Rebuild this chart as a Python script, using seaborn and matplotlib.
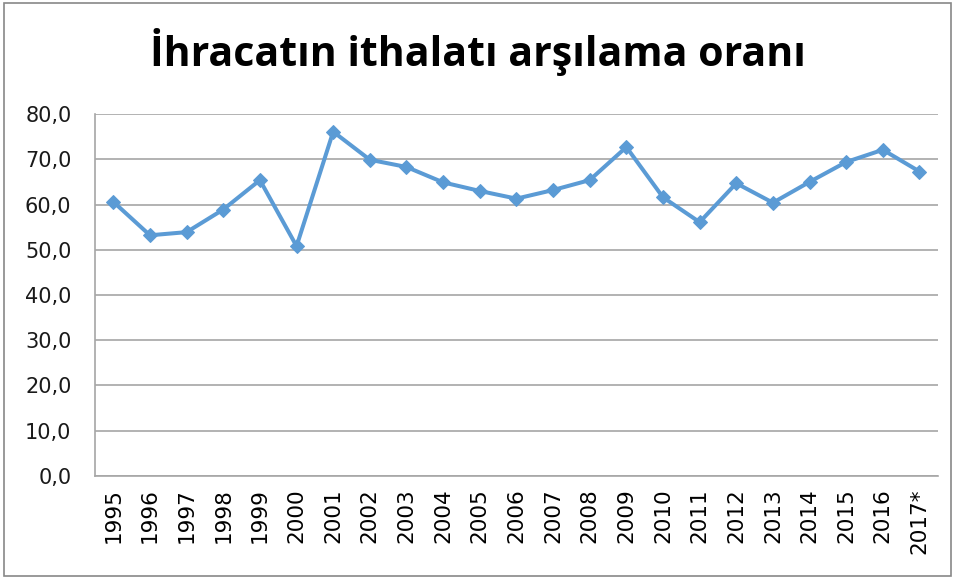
import numpy as np
import pandas as pd
import matplotlib
matplotlib.use("Agg")
import matplotlib.pyplot as plt
import seaborn as sns
from matplotlib.patches import Rectangle
from matplotlib.ticker import FixedLocator, FuncFormatter

# --- Daten ---
years = ["1995", "1996", "1997", "1998", "1999", "2000", "2001", "2002",
         "2003", "2004", "2005", "2006", "2007", "2008", "2009", "2010",
         "2011", "2012", "2013", "2014", "2015", "2016", "2017*"]
ratio = [60.6, 53.2, 53.9, 58.9, 65.4, 50.8, 76.1, 69.9,
         68.3, 64.9, 63.0, 61.3, 63.2, 65.4, 72.7, 61.6,
         56.1, 64.7, 60.4, 65.0, 69.4, 72.1, 67.3]
y_ticks = [0, 10, 20, 30, 40, 50, 60, 70, 80]
title = "İhracatın ithalatı arşılama oranı"

LINE_COLOR = "#5B9BD5"
GRID_COLOR = "#A6A6A6"

df = pd.DataFrame({"pos": np.arange(len(years)), "oran": ratio})

sns.set_style("white")
plt.rcParams["font.family"] = ["DejaVu Sans"]

fig = plt.figure(figsize=(9.55, 5.79), dpi=100)
ax = fig.add_axes([0.0995, 0.178, 0.8825, 0.625])

sns.lineplot(data=df, x="pos", y="oran", ax=ax, color=LINE_COLOR,
             linewidth=2.9, marker="D", markersize=7.5,
             markeredgecolor=LINE_COLOR, zorder=3)

ax.set_xlim(-0.5, len(years) - 0.5)
ax.set_ylim(0, 80)
ax.set_yticks(y_ticks)
ax.yaxis.set_major_formatter(FuncFormatter(lambda v, _: f"{v:.1f}".replace(".", ",")))
ax.tick_params(axis="y", labelsize=15, length=9, width=1.2, color=GRID_COLOR,
               labelcolor="#1a1a1a", pad=8)

# Kategorien mittig, Tickstriche zwischen den Kategorien
ax.set_xticks(np.arange(len(years)))
ax.set_xticklabels(years, rotation=90, fontsize=15.5, color="#000000")
ax.tick_params(axis="x", which="major", length=0, pad=9)
ax.xaxis.set_minor_locator(FixedLocator(np.arange(-0.5, len(years), 1.0)))
ax.tick_params(axis="x", which="minor", length=9, color=GRID_COLOR, width=1.2)

ax.grid(axis="y", color=GRID_COLOR, linewidth=1.2)
ax.grid(axis="x", visible=False)
ax.set_axisbelow(True)
for side in ["top", "right"]:
    ax.spines[side].set_visible(False)
for side in ["left", "bottom"]:
    ax.spines[side].set_color(GRID_COLOR)
    ax.spines[side].set_linewidth(1.2)
ax.set_xlabel("")
ax.set_ylabel("")

fig.text(0.5, 0.91, title, ha="center", va="center", fontsize=29.5,
         fontweight="bold", color="#000000", family=["Open Sans", "DejaVu Sans"])

# Rahmen um das Diagramm
fig.patches.append(Rectangle((0.004, 0.005), 0.992, 0.99, transform=fig.transFigure,
                             fill=False, edgecolor="#888888", linewidth=1.2))

fig.savefig("out.png", dpi=100)
